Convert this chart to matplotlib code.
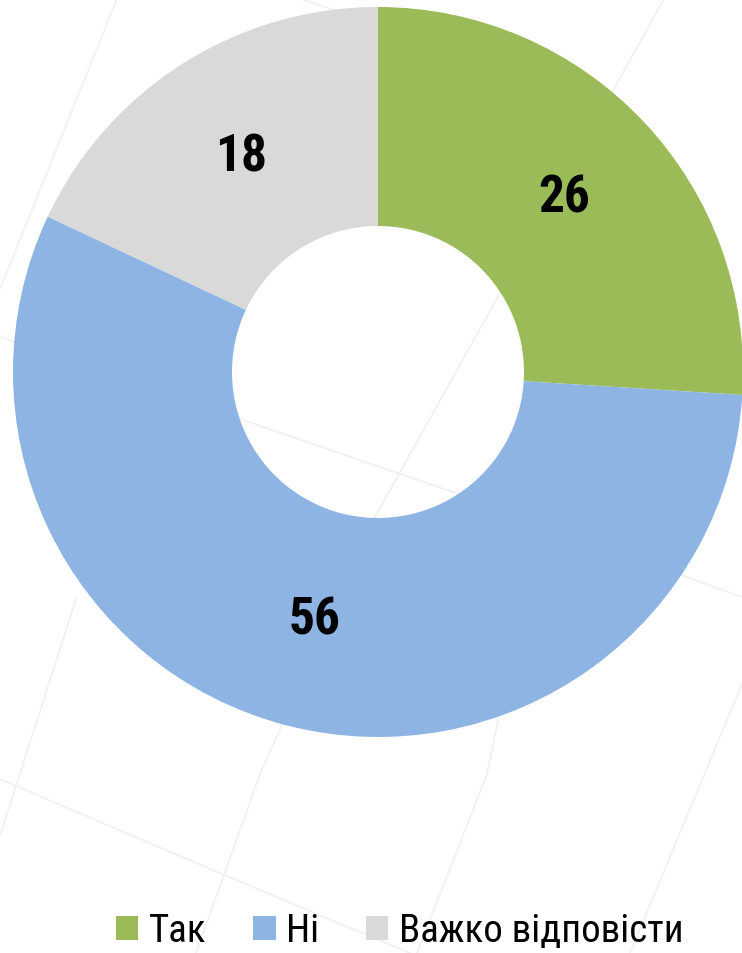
import matplotlib
matplotlib.use("Agg")
import matplotlib.pyplot as plt
from matplotlib.patches import Patch

categories = ["Так", "Ні", "Важко відповісти"]
values = [26, 56, 18]
colors = ["#9BBB59", "#8EB4E3", "#D9D9D9"]

W, H = 742, 954
fig = plt.figure(figsize=(W / 100, H / 100), dpi=100)
fig.patch.set_facecolor("white")

# faint decorative background grid (watermark)
bg = fig.add_axes([0, 0, 1, 1], zorder=0)
bg.set_xlim(0, W); bg.set_ylim(H, 0); bg.axis("off")
bg_lines = [
    [(117, 0), (0, 290)],
    [(664, 0), (375, 518), (260, 775), (196, 954)],
    [(76, 600), (0, 837)],
    [(560, 420), (487, 775), (417, 954)],
    [(800, 560), (742, 685), (630, 954)],
    [(0, 780), (222, 875), (412, 955)],
    [(0, 338), (240, 420), (453, 493), (742, 598)],
    [(300, 0), (378, 25)],
]
for pts in bg_lines:
    xs, ys = zip(*pts)
    bg.plot(xs, ys, color="#F1F1F1", lw=1.3, zorder=0, solid_capstyle="round")

cx, cy, R = 378, 373, 365
ax = fig.add_axes([(cx - R) / W, (H - cy - R) / H, 2 * R / W, 2 * R / H], zorder=1)
ax.set_facecolor("none")

wedges, texts, autotexts = ax.pie(
    values, colors=colors, startangle=90, counterclock=False,
    radius=1.0, wedgeprops=dict(width=0.6, linewidth=0),
    autopct=lambda p: f"{p:.0f}", pctdistance=0.70,
    textprops=dict(fontsize=37, fontweight="bold", color="black",
                   family=["Roboto Condensed", "DejaVu Sans"]))
ax.set_xlim(-1, 1); ax.set_ylim(-1, 1)
ax.set_aspect("auto")
ax.axis("off")

handles = [Patch(facecolor=c, edgecolor="none") for c in colors]
leg = fig.legend(handles, categories, loc="center", bbox_to_anchor=(400 / W, 1 - 932 / H),
                 ncol=3, frameon=False, handlelength=0.57, handleheight=0.57,
                 handletextpad=0.28, columnspacing=1.2, borderpad=0, borderaxespad=0,
                 prop=dict(size=28, family=["Roboto Condensed", "DejaVu Sans"]))

fig.savefig("out.png", dpi=100, facecolor="white")
